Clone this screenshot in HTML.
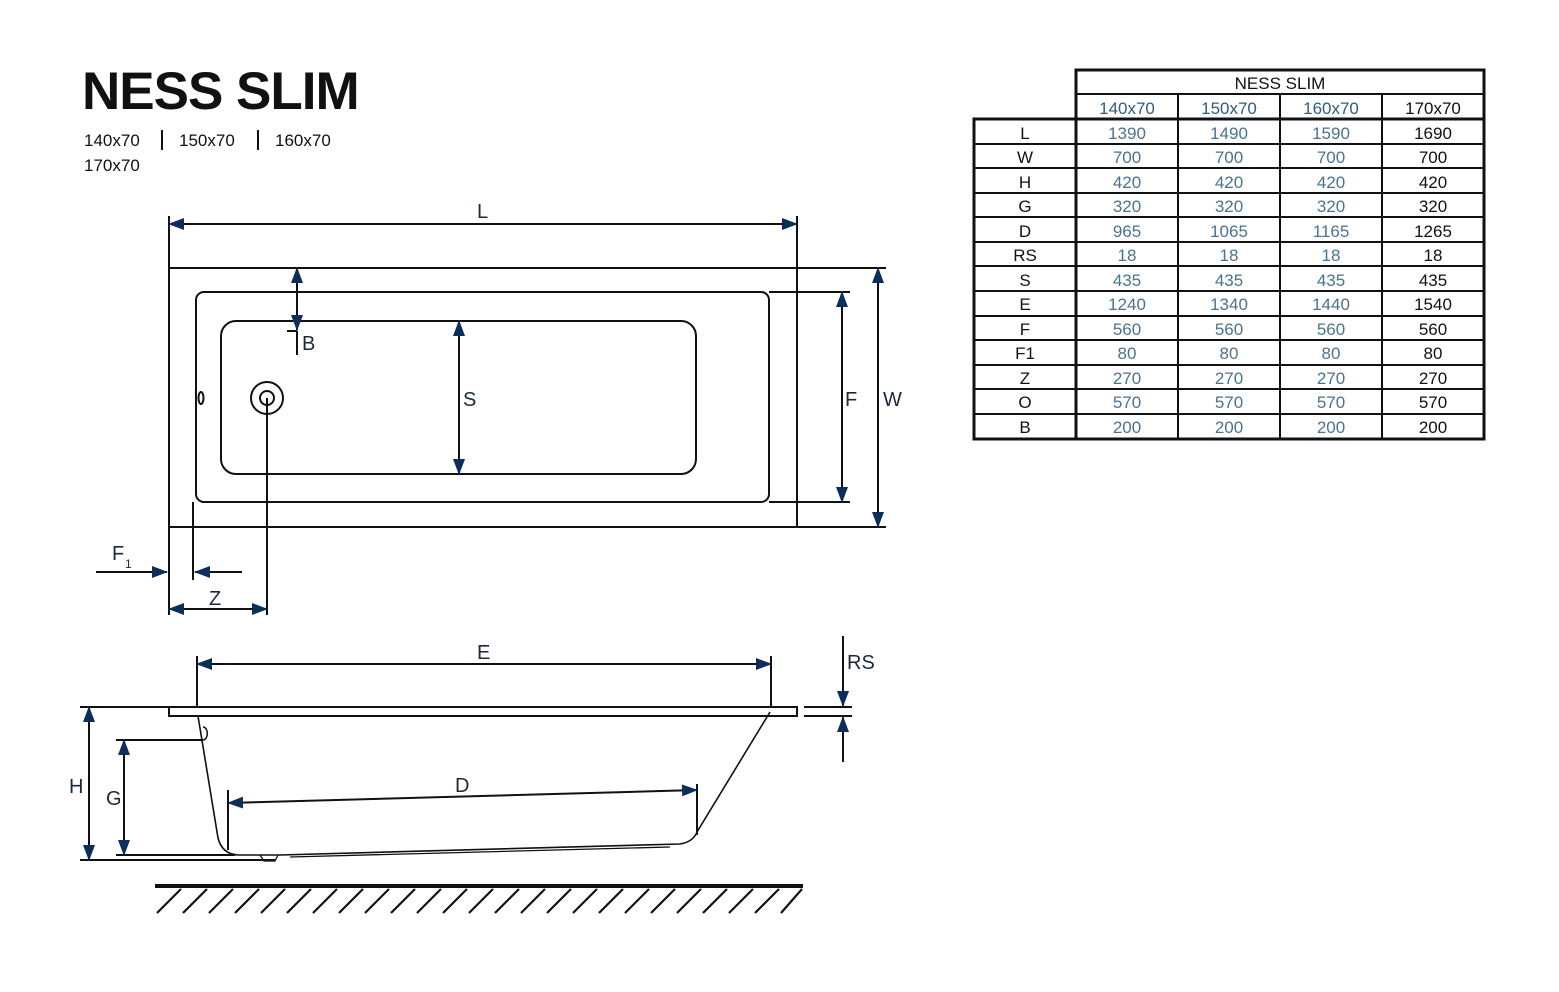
<!DOCTYPE html>
<html><head><meta charset="utf-8"><style>
html,body{margin:0;padding:0;background:#fff;width:1559px;height:992px;overflow:hidden}
svg{display:block}
text{font-family:"Liberation Sans",sans-serif}
</style></head><body>
<svg width="1559" height="992" viewBox="0 0 1559 992" xmlns="http://www.w3.org/2000/svg">
<defs>
<marker id="a" markerUnits="userSpaceOnUse" markerWidth="16" markerHeight="12" refX="15" refY="6" orient="auto-start-reverse">
<path d="M0,0 L16,6 L0,12 Z" fill="#0d2d5a"/></marker>
</defs>
<text x="82" y="109" font-size="53" font-weight="bold" fill="#111" letter-spacing="-1">NESS SLIM</text>
<g font-size="17" fill="#111">
<text x="84" y="146">140x70</text><text x="179" y="146">150x70</text><text x="275" y="146">160x70</text><text x="84" y="171">170x70</text>
</g>
<g stroke="#111" stroke-width="2"><line x1="162" y1="130" x2="162" y2="150"/><line x1="258" y1="130" x2="258" y2="150"/></g>

<g stroke="#111" stroke-width="2" fill="none">
<!-- top view -->
<rect x="169" y="268" width="628" height="259"/>
<rect x="196" y="292" width="573" height="210" rx="8"/>
<rect x="221" y="321" width="475" height="153" rx="15"/>
<circle cx="267" cy="398" r="16"/><circle cx="267" cy="398" r="7"/>
<ellipse cx="201" cy="398" rx="2.5" ry="6"/>
<line x1="169" y1="216" x2="169" y2="268"/><line x1="797" y1="216" x2="797" y2="268"/>
<line x1="797" y1="268" x2="886" y2="268"/><line x1="797" y1="527" x2="886" y2="527"/>
<line x1="769" y1="292" x2="850" y2="292"/><line x1="769" y1="502" x2="850" y2="502"/>
<line x1="287" y1="331" x2="297" y2="331"/><line x1="297" y1="331" x2="297" y2="355"/>
<line x1="193" y1="502" x2="193" y2="580"/><line x1="169" y1="527" x2="169" y2="615"/>
<line x1="267" y1="398" x2="267" y2="615"/>
<line x1="96" y1="572" x2="167" y2="572" marker-end="url(#a)"/>
<line x1="242" y1="572" x2="195" y2="572" marker-end="url(#a)"/>
<line x1="169" y1="609" x2="267" y2="609" marker-start="url(#a)" marker-end="url(#a)"/>
<line x1="169" y1="224" x2="797" y2="224" marker-start="url(#a)" marker-end="url(#a)"/>
<line x1="878" y1="268" x2="878" y2="527" marker-start="url(#a)" marker-end="url(#a)"/>
<line x1="842" y1="292" x2="842" y2="502" marker-start="url(#a)" marker-end="url(#a)"/>
<line x1="459" y1="321" x2="459" y2="474" marker-start="url(#a)" marker-end="url(#a)"/>
<line x1="297" y1="268" x2="297" y2="330" marker-start="url(#a)" marker-end="url(#a)"/>

<!-- side view -->
<rect x="169" y="707" width="628" height="9"/>
<line x1="80" y1="707" x2="169" y2="707"/>
<line x1="804" y1="707" x2="852" y2="707"/><line x1="804" y1="716" x2="852" y2="716"/>
<line x1="843" y1="636" x2="843" y2="706" marker-end="url(#a)"/>
<line x1="843" y1="762" x2="843" y2="717" marker-end="url(#a)"/>
<line x1="197" y1="656" x2="197" y2="707"/><line x1="771" y1="656" x2="771" y2="707"/>
<line x1="197" y1="664" x2="771" y2="664" marker-start="url(#a)" marker-end="url(#a)"/>
<path d="M198,716 L218,838 Q222,854 238,855 L280,855 L680,844 Q693,842 697,832 L770,712" stroke-width="1.6"/>
<path d="M260,855 L264,861 L275,861 L278,855 M290,857 L670,847" stroke-width="1.3"/>
<path d="M203,727 A4,6 0 0 1 203,740" stroke-width="1.5"/>
<line x1="228" y1="790" x2="228" y2="850"/><line x1="697" y1="784" x2="697" y2="835"/>
<line x1="228" y1="803" x2="697" y2="790" marker-start="url(#a)" marker-end="url(#a)"/>
<line x1="80" y1="860" x2="275" y2="860"/>
<line x1="116" y1="740" x2="203" y2="740"/><line x1="116" y1="855" x2="235" y2="855"/>
<line x1="89" y1="707" x2="89" y2="860" marker-start="url(#a)" marker-end="url(#a)"/>
<line x1="124" y1="740" x2="124" y2="855" marker-start="url(#a)" marker-end="url(#a)"/>
<line x1="155" y1="886" x2="803" y2="886" stroke-width="4"/>
</g>
<g stroke="#111" stroke-width="2.2" id="h"></g>
<path stroke="#111" stroke-width="2.2" d="M181,889 L157,913 M207,889 L183,913 M233,889 L209,913 M259,889 L235,913 M285,889 L261,913 M311,889 L287,913 M337,889 L313,913 M363,889 L339,913 M389,889 L365,913 M415,889 L391,913 M441,889 L417,913 M467,889 L443,913 M493,889 L469,913 M519,889 L495,913 M545,889 L521,913 M571,889 L547,913 M597,889 L573,913 M623,889 L599,913 M649,889 L625,913 M675,889 L651,913 M701,889 L677,913 M727,889 L703,913 M753,889 L729,913 M779,889 L755,913 M802,889 L781,913"/>

<g font-size="20" fill="#1a2a3a">
<text x="477" y="218">L</text>
<text x="302" y="350">B</text>
<text x="463" y="406">S</text>
<text x="845" y="406">F</text>
<text x="883" y="406">W</text>
<text x="112" y="560">F</text><text x="125" y="568" font-size="12">1</text>
<text x="209" y="605">Z</text>
<text x="477" y="659">E</text>
<text x="847" y="669">RS</text>
<text x="455" y="792">D</text>
<text x="69" y="793">H</text>
<text x="106" y="805">G</text>
</g>

<!-- table -->
<g stroke="#111" fill="none">
<rect x="1076" y="70" width="408" height="49" stroke-width="3"/>
<rect x="974" y="119" width="510" height="320" stroke-width="3"/>
<line x1="1076" y1="94" x2="1484" y2="94" stroke-width="2"/>
<line x1="1076" y1="119" x2="1076" y2="439" stroke-width="3"/>
<line x1="1178" y1="94" x2="1178" y2="439" stroke-width="2"/>
<line x1="1280" y1="94" x2="1280" y2="439" stroke-width="2"/>
<line x1="1382" y1="94" x2="1382" y2="439" stroke-width="2"/>
<path stroke-width="2" d="M974,144H1484M974,168H1484M974,193H1484M974,217H1484M974,242H1484M974,266H1484M974,291H1484M974,316H1484M974,340H1484M974,365H1484M974,389H1484M974,414H1484"/>
</g>
<g font-size="17" text-anchor="middle">
<text x="1280" y="89" fill="#111">NESS SLIM</text>
<g fill="#2f5d7c"><text x="1127" y="114">140x70</text><text x="1229" y="114">150x70</text><text x="1331" y="114">160x70</text></g>
<text x="1433" y="114" fill="#111">170x70</text>
</g>
<g font-size="17" text-anchor="middle" id="rows">
<g fill="#111"><text x="1025" y="139">L</text><text x="1025" y="163">W</text><text x="1025" y="188">H</text><text x="1025" y="212">G</text><text x="1025" y="237">D</text><text x="1025" y="261">RS</text><text x="1025" y="286">S</text><text x="1025" y="310">E</text><text x="1025" y="335">F</text><text x="1025" y="359">F1</text><text x="1025" y="384">Z</text><text x="1025" y="408">O</text><text x="1025" y="433">B</text></g>
<g fill="#4a7390">
<text x="1127" y="139">1390</text><text x="1229" y="139">1490</text><text x="1331" y="139">1590</text>
<text x="1127" y="163">700</text><text x="1229" y="163">700</text><text x="1331" y="163">700</text>
<text x="1127" y="188">420</text><text x="1229" y="188">420</text><text x="1331" y="188">420</text>
<text x="1127" y="212">320</text><text x="1229" y="212">320</text><text x="1331" y="212">320</text>
<text x="1127" y="237">965</text><text x="1229" y="237">1065</text><text x="1331" y="237">1165</text>
<text x="1127" y="261">18</text><text x="1229" y="261">18</text><text x="1331" y="261">18</text>
<text x="1127" y="286">435</text><text x="1229" y="286">435</text><text x="1331" y="286">435</text>
<text x="1127" y="310">1240</text><text x="1229" y="310">1340</text><text x="1331" y="310">1440</text>
<text x="1127" y="335">560</text><text x="1229" y="335">560</text><text x="1331" y="335">560</text>
<text x="1127" y="359">80</text><text x="1229" y="359">80</text><text x="1331" y="359">80</text>
<text x="1127" y="384">270</text><text x="1229" y="384">270</text><text x="1331" y="384">270</text>
<text x="1127" y="408">570</text><text x="1229" y="408">570</text><text x="1331" y="408">570</text>
<text x="1127" y="433">200</text><text x="1229" y="433">200</text><text x="1331" y="433">200</text>
</g>
<g fill="#111">
<text x="1433" y="139">1690</text><text x="1433" y="163">700</text><text x="1433" y="188">420</text><text x="1433" y="212">320</text><text x="1433" y="237">1265</text><text x="1433" y="261">18</text><text x="1433" y="286">435</text><text x="1433" y="310">1540</text><text x="1433" y="335">560</text><text x="1433" y="359">80</text><text x="1433" y="384">270</text><text x="1433" y="408">570</text><text x="1433" y="433">200</text>
</g>
</g>
</svg>
</body></html>
